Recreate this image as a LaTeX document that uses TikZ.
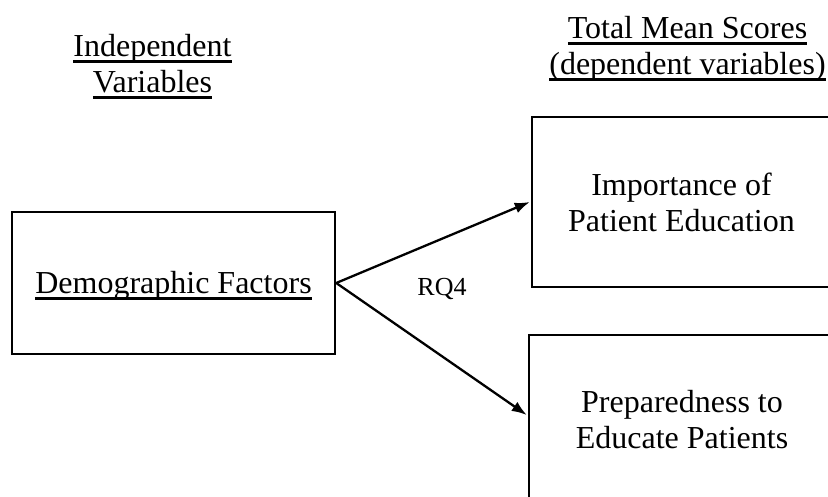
\documentclass[tikz,border=0pt]{standalone}
\usepackage{fontspec}
\setmainfont{Liberation Serif}
\usetikzlibrary{arrows.meta}

% heavy underline drawn as a rule below the baseline
\newcommand{\thickul}[1]{\leavevmode\setbox0\hbox{#1}\rlap{\rule[-6.6pt]{\wd0}{3.2pt}}\box0}

\tikzset{
  bigtext/.style={font=\fontsize{32}{36}\selectfont, align=center},
  varbox/.style={draw, line width=2.5pt, inner sep=0pt, bigtext},
  link/.style={line width=2.3pt, -{Latex[length=15pt,width=11pt]}}
}

\begin{document}
\begin{tikzpicture}[x=1pt, y=-1pt]
  \clip (0,0) rectangle (828,497);
  \fill[white] (0,0) rectangle (828,497);

  % column headings
  \node[bigtext] (ivhead) at (152.5,66.5) {\thickul{Independent}\\\thickul{Variables}};
  \node[bigtext] (dvhead) at (687.5,48.5) {\thickul{Total Mean Scores}\\\thickul{(dependent variables)}};

  % independent variable
  \node[varbox, minimum width=323pt, minimum height=142pt] (demo) at (173.5,283)
    {\raisebox{-2.5pt}[\height][\depth]{\thickul{Demographic Factors}}};

  % dependent variables (boxes run past the right edge)
  \node[varbox, minimum width=299pt, minimum height=170pt] (imp) at (681.5,202)
    {Importance of\\Patient Education};
  \node[varbox, minimum width=306pt, minimum height=170pt] (prep) at (682,420)
    {Preparedness to\\Educate Patients};

  % research question arrows
  \draw[link] (demo.east) -- ([xshift=-1pt]imp.west);
  \draw[link] (demo.east) -- ([xshift=-1pt,yshift=5pt]prep.west);

  \node[font=\fontsize{26}{30}\selectfont] (rq) at (442,289) {RQ4};
\end{tikzpicture}
\end{document}
